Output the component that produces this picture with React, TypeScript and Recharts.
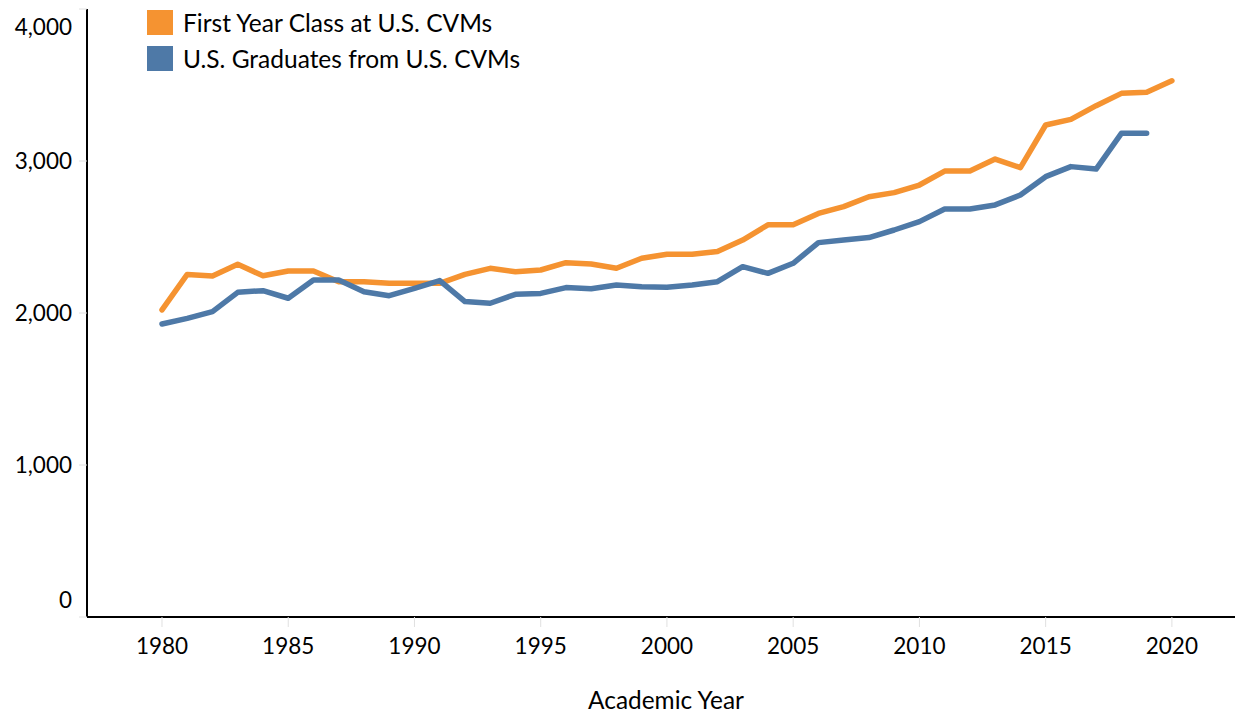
import { CartesianGrid, Line, LineChart, XAxis, YAxis } from "recharts";

const years = [
  1980, 1981, 1982, 1983, 1984, 1985, 1986, 1987, 1988, 1989, 1990, 1991, 1992,
  1993, 1994, 1995, 1996, 1997, 1998, 1999, 2000, 2001, 2002, 2003, 2004, 2005,
  2006, 2007, 2008, 2009, 2010, 2011, 2012, 2013, 2014, 2015, 2016, 2017, 2018,
  2019, 2020,
];

const firstYear = [
  2020, 2254, 2243, 2320, 2245, 2276, 2276, 2206, 2206, 2195, 2195, 2195, 2254,
  2294, 2272, 2283, 2331, 2322, 2294, 2360, 2386, 2386, 2404, 2480, 2580, 2580,
  2655, 2700, 2765, 2792, 2842, 2934, 2934, 3013, 2956, 3237, 3274, 3364, 3445,
  3452, 3528,
];

const graduates = [
  1928, 1965, 2009, 2136, 2147, 2097, 2217, 2217, 2140, 2114, 2162, 2213, 2075,
  2064, 2123, 2129, 2167, 2160, 2184, 2173, 2169, 2184, 2206, 2305, 2261, 2327,
  2463, 2480, 2496, 2546, 2601, 2684, 2684, 2711, 2776, 2897, 2963, 2947, 3182,
  3182, null,
];

const yTicks = [0, 1000, 2000, 3000, 4000];
const xTicks = [1980, 1985, 1990, 1995, 2000, 2005, 2010, 2015, 2020];

const seriesNames = ["First Year Class at U.S. CVMs", "U.S. Graduates from U.S. CVMs"];
const colors = ["#F59331", "#4E79A7"];

const data = years.map((year, i) => ({
  year,
  firstYear: firstYear[i],
  graduates: graduates[i],
}));

const font = "Lato, 'Open Sans', sans-serif";

function YTick(props: any) {
  const { x, y, payload } = props;
  // end labels are nudged inward like in the original
  let shift = 0;
  if (payload.value === 0) shift = -17;
  if (payload.value === 4000) shift = 18;
  return (
    <text
      x={x}
      y={y + shift}
      dy="0.35em"
      textAnchor="end"
      fill="#000"
      fontSize={22.5}
      fontFamily={font}
    >
      {payload.value.toLocaleString("en-US")}
    </text>
  );
}

export default function App() {
  return (
    <div style={{ position: "absolute", left: 0, top: 0, width: 1235, height: 715, background: "#fff" }}>
      <LineChart
        width={1235}
        height={715}
        data={data}
        margin={{ top: 9, right: 0, bottom: 0, left: 0 }}
      >
        <CartesianGrid stroke="none" />
        <XAxis
          dataKey="year"
          type="number"
          domain={[1977.03, 2022.5]}
          ticks={xTicks}
          allowDataOverflow
          height={98}
          axisLine={{ stroke: "#000", strokeWidth: 2 }}
          tickLine={{ stroke: "#e0e0e0", strokeWidth: 1 }}
          tickSize={10}
          tickMargin={11}
          tick={{ fill: "#000", fontSize: 22.5, fontFamily: font }}
          label={{
            value: "Academic Year",
            position: "insideBottom",
            offset: 6,
            dx: 5,
            fill: "#000",
            fontSize: 24.4,
            fontFamily: font,
          }}
        />
        <YAxis
          domain={[0, 4000]}
          ticks={yTicks}
          width={87}
          axisLine={{ stroke: "#000", strokeWidth: 2 }}
          tickLine={{ stroke: "#e0e0e0", strokeWidth: 1 }}
          tickSize={8}
          tickMargin={7}
          tick={<YTick />}
        />
        <Line
          dataKey="firstYear"
          name={seriesNames[0]}
          stroke={colors[0]}
          strokeWidth={5.5}
          strokeLinecap="round"
          strokeLinejoin="round"
          dot={false}
          activeDot={false}
          isAnimationActive={false}
        />
        <Line
          dataKey="graduates"
          name={seriesNames[1]}
          stroke={colors[1]}
          strokeWidth={5.5}
          strokeLinecap="round"
          strokeLinejoin="round"
          dot={false}
          activeDot={false}
          isAnimationActive={false}
        />
      </LineChart>
      <div style={{ position: "absolute", left: 147, top: 10, fontFamily: font, fontSize: 24.5, color: "#000" }}>
        {seriesNames.map((name, i) => (
          <div key={name} style={{ display: "flex", alignItems: "center", height: 25, marginBottom: i === 0 ? 11 : 0 }}>
            <span style={{ width: 26, height: 25, background: colors[i], marginRight: 10, flexShrink: 0 }} />
            <span style={{ whiteSpace: "nowrap" }}>{name}</span>
          </div>
        ))}
      </div>
    </div>
  );
}
